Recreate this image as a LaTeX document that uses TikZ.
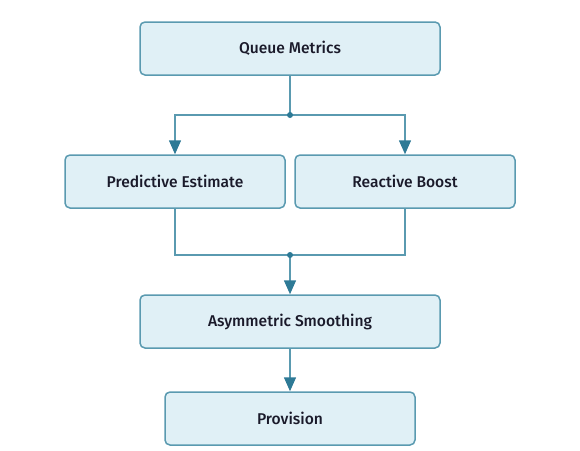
\documentclass[tikz,border=0pt]{standalone}
\usepackage{fontspec}
\setmainfont{Fira Sans}[UprightFont=* Medium]
\usetikzlibrary{arrows.meta}
\definecolor{boxfill}{HTML}{E0F0F6}
\definecolor{boxdraw}{HTML}{5A9AB0}
\definecolor{linecol}{HTML}{5A9AB0}
\definecolor{tipcol}{HTML}{2E7A96}
\definecolor{txt}{HTML}{1A1A2A}
\tikzset{
  stepbox/.style={draw=boxdraw, fill=boxfill, line width=1.5pt, rounded corners=5pt,
    minimum height=53pt, inner sep=0pt, text=txt, font=\fontsize{15.6}{18}\selectfont},
  conn/.style={draw=linecol, line width=1.5pt},
  arr/.style={conn, -{Triangle[width=12pt,length=14pt,color=tipcol]}},
  junc/.style={circle, fill=tipcol, inner sep=0pt, minimum size=6pt},
}
\begin{document}
\begin{tikzpicture}[x=1pt,y=-1pt]
\useasboundingbox (0,0) rectangle (580,450);
\node[stepbox, minimum width=300pt] (qm) at (290,48.5) {Queue Metrics};
\node[stepbox, minimum width=220pt] (pe) at (175,181.5) {Predictive Estimate};
\node[stepbox, minimum width=220pt] (rb) at (405,181.5) {Reactive Boost};
\node[stepbox, minimum width=300pt] (as) at (290,321.5) {Asymmetric Smoothing};
\node[stepbox, minimum width=250pt] (pr) at (290,418.5) {Provision};
\coordinate (j1) at (290,115);
\coordinate (j2) at (290,255);
\draw[conn] (qm.south) -- (j1);
\draw[arr] (j1) -| (pe.north);
\draw[arr] (j1) -| (rb.north);
\draw[conn] (pe.south) |- (j2);
\draw[conn] (rb.south) |- (j2);
\draw[arr] (j2) -- (as.north);
\draw[arr] (as.south) -- (pr.north);
\node[junc] at (j1) {};
\node[junc] at (j2) {};
\end{tikzpicture}
\end{document}
